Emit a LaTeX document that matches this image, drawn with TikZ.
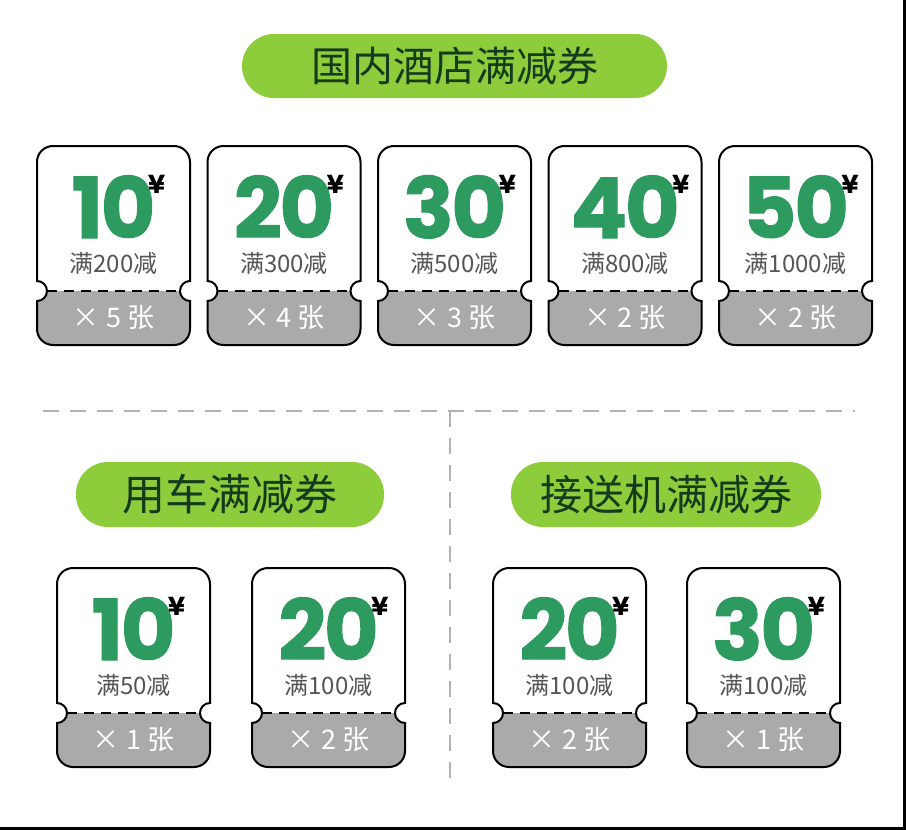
\documentclass[tikz,border=0pt]{standalone}
\usepackage{fontspec}
\setmainfont{Noto Sans CJK SC}
\newfontfamily\numfont{Poppins}[LetterSpace=-3,BoldFeatures={FakeBold=1.2}]
\newfontfamily\yenfont{Poppins}
\definecolor{limegreen}{RGB}{141,205,60}
\definecolor{titletext}{RGB}{22,58,28}
\definecolor{digitgreen}{RGB}{45,155,95}
\definecolor{ticketgray}{RGB}{170,170,170}
\definecolor{condgray}{RGB}{85,85,85}
\definecolor{sepgray}{RGB}{178,178,178}
\tikzset{
  pill/.style={fill=limegreen, rounded corners=32pt, inner sep=0pt, text=titletext,
    font=\fontsize{41pt}{41pt}\selectfont},
  ticketline/.style={draw=black, line width=2pt},
  perforation/.style={draw=black, line width=2pt, dash pattern=on 10pt off 7pt},
  separator/.style={draw=sepgray, line width=2pt, dash pattern=on 16pt off 11pt},
  digit/.style={inner sep=0pt, text depth=0pt, text=digitgreen, font=\numfont\bfseries\fontsize{84pt}{84pt}\selectfont},
  yen/.style={inner sep=0pt, text=black, font=\yenfont\bfseries\fontsize{26pt}{26pt}\selectfont},
  cond/.style={inner sep=0pt, text=condgray, font=\fontsize{24pt}{24pt}\selectfont},
  count/.style={inner sep=0pt, text=white, font=\fontsize{27pt}{27pt}\selectfont},
}
% #1 left, #2 top, #3 name, #4 value, #5 condition, #6 count
\newcommand\coupon[6]{%
\begin{scope}[shift={(#1,#2)}]
  \fill[ticketgray] (10,145) -- (143,145) arc[start angle=180,end angle=270,radius=10pt]
     -- (153,183) arc[start angle=0,end angle=-90,radius=16pt]
     -- (16,199) arc[start angle=270,end angle=180,radius=16pt]
     -- (0,155) arc[start angle=-90,end angle=0,radius=10pt] -- cycle;
  \draw[ticketline] (0,16) arc[start angle=180,end angle=90,radius=16pt]
     -- (137,0) arc[start angle=90,end angle=0,radius=16pt]
     -- (153,135) arc[start angle=90,end angle=270,radius=10pt]
     -- (153,183) arc[start angle=0,end angle=-90,radius=16pt]
     -- (16,199) arc[start angle=270,end angle=180,radius=16pt]
     -- (0,155) arc[start angle=-90,end angle=90,radius=10pt] -- cycle;
  \coordinate (#3-pl) at (10,145);
  \coordinate (#3-pr) at (143,145);
  \draw[perforation] (#3-pl) -- (#3-pr);
  \node[digit, anchor=base] (#3-v) at (76.5,92) {#4};
  \node[yen, anchor=north] (#3-y) at ([xshift=1pt]#3-v.north east) {¥};
  \node[cond] (#3-c) at (76.5,117) {#5};
  \node[count] (#3-n) at (76.5,172) {#6};
\end{scope}}
\begin{document}
\begin{tikzpicture}[x=1pt,y=-1pt]
\useasboundingbox (0,0) rectangle (906,830);
\fill[white] (0,0) rectangle (906,830);
\fill[black] (903,0) rectangle (906,830);
\fill[black] (0,827) rectangle (906,830);

\node[pill, minimum width=425pt, minimum height=64pt] (hotel) at (454.5,66) {国内酒店满减券};

\coupon{37}{146}{h1}{10}{满200减}{× 5 张}
\coupon{207.5}{146}{h2}{20}{满300减}{× 4 张}
\coupon{378}{146}{h3}{30}{满500减}{× 3 张}
\coupon{548.5}{146}{h4}{40}{满800减}{× 2 张}
\coupon{719}{146}{h5}{50}{满1000减}{× 2 张}

\coordinate (hl) at (43,411);
\coordinate (hr) at (855,411);
\coordinate (vt) at (450,411);
\coordinate (vb) at (450,782);
\draw[separator] (hl) -- (hr);
\draw[separator] (vt) -- (vb);

\node[pill, minimum width=308pt, minimum height=65pt, font=\fontsize{43pt}{43pt}\selectfont] (car) at (230,494.5) {用车满减券};
\node[pill, minimum width=310pt, minimum height=65pt, font=\fontsize{42pt}{42pt}\selectfont] (airport) at (666,494.5) {接送机满减券};

\coupon{57}{568}{c1}{10}{满50减}{× 1 张}
\coupon{252}{568}{c2}{20}{满100减}{× 2 张}
\coupon{493}{568}{a1}{20}{满100减}{× 2 张}
\coupon{687}{568}{a2}{30}{满100减}{× 1 张}
\end{tikzpicture}
\end{document}
